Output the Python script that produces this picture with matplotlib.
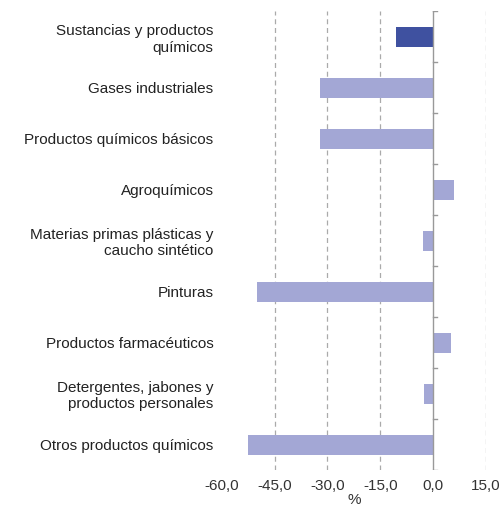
import matplotlib
matplotlib.use("Agg")
import matplotlib.pyplot as plt
import numpy as np

categories = ["Sustancias y productos\nquímicos", "Gases industriales",
              "Productos químicos básicos", "Agroquímicos",
              "Materias primas plásticas y\ncaucho sintético", "Pinturas",
              "Productos farmacéuticos", "Detergentes, jabones y\nproductos personales",
              "Otros productos químicos"]
values = [-10.5, -32.0, -32.0, 6.0, -3.0, -50.0, 5.0, -2.5, -52.5]
xticks = [-60, -45, -30, -15, 0, 15]

plt.rcParams["font.family"] = ["Liberation Sans", "DejaVu Sans"]
fig = plt.figure(figsize=(5.03, 5.15), dpi=100)
ax = fig.add_axes([0.441, 0.087, 0.525, 0.891])

y = np.arange(len(categories))
colors = ["#3F51A0"] + ["#A3A7D5"] * (len(categories) - 1)
ax.barh(y, values, height=0.4, color=colors, zorder=3)
ax.set_ylim(len(categories) - 0.5, -0.5)
ax.set_xlim(-60, 15)
ax.set_xticks(xticks)
ax.set_xticklabels([f"{v:.1f}".replace(".", ",") for v in xticks], fontsize=11, color="#333333")
ax.set_yticks(y)
ax.set_yticklabels(categories, fontsize=11, color="#222222")
for v in [-45, -30, -15, 15]:
    ax.axvline(v, color="#aaaaaa", ls=(0, (4, 3)), lw=0.9, zorder=1)
for s in ["top", "right", "bottom", "left"]:
    ax.spines[s].set_visible(False)
ax.axvline(0, color="#999999", lw=1, zorder=4)
for yy in np.arange(len(categories) + 1) - 0.5:
    ax.plot([0, 1.0], [yy, yy], color="#999999", lw=1, zorder=4)
ax.tick_params(axis="y", length=0, pad=6)
ax.tick_params(axis="x", length=0, pad=6)
ax.set_xlabel("%", fontsize=11, color="#333333", labelpad=0)
fig.savefig("out.png", dpi=100)
